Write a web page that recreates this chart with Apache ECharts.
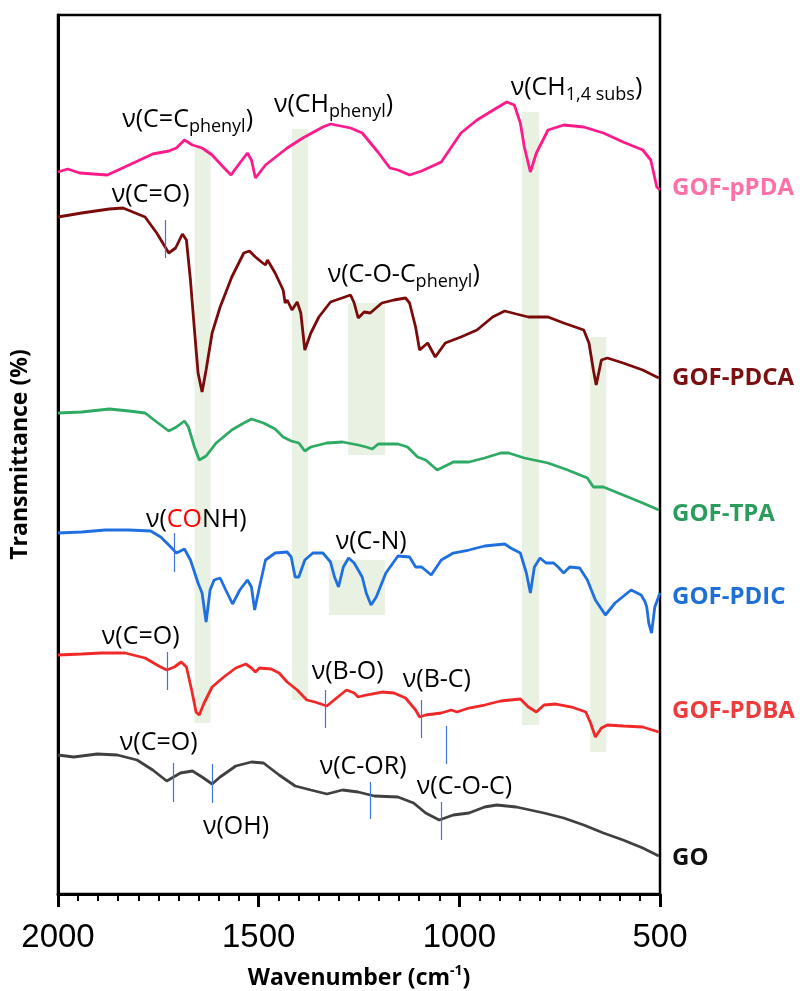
<!DOCTYPE html>
<html><head><meta charset="utf-8">
<script src="https://cdn.jsdelivr.net/npm/echarts@6/dist/echarts.min.js"></script>
<style>html,body{margin:0;padding:0;background:#fff}#c{width:804px;height:991px}</style>
</head><body><div id="c"></div>
<script>
// Wavenumber (cm-1) vs transmittance (arbitrary offset units)
const xTicks = [2000, 1500, 1000, 500];
const pPDA = [[2000,722],[1976,725],[1946,721],[1877,719],[1823,729],[1764,740],[1724,743],[1705,746],[1685,754],[1665,749],[1641,746],[1616,739],[1586,726],[1569,719],[1547,731],[1528,741],[1518,734],[1508,716],[1483,729],[1429,746],[1390,756],[1340,767],[1321,770],[1271,766],[1242,761],[1203,742],[1173,726],[1153,724],[1124,719],[1094,723],[1045,732],[996,761],[956,774],[907,786],[882,792],[863,789],[848,771],[838,747],[823,722],[808,741],[779,764],[740,769],[690,767],[641,761],[592,752],[543,744],[523,734],[508,707],[500,704]];
const PDCA = [[2000,677],[1941,681],[1872,685],[1838,686],[1783,677],[1754,661],[1724,641],[1707,646],[1690,660],[1680,654],[1670,614],[1660,564],[1651,521],[1641,502],[1631,524],[1616,561],[1596,587],[1567,617],[1537,641],[1523,643],[1508,637],[1493,632],[1483,629],[1478,634],[1459,621],[1439,604],[1434,591],[1429,594],[1417,584],[1404,592],[1395,581],[1385,544],[1370,561],[1350,577],[1321,592],[1271,599],[1262,591],[1252,576],[1237,582],[1222,581],[1193,591],[1163,594],[1134,596],[1124,591],[1109,567],[1099,544],[1079,551],[1060,537],[1035,551],[996,557],[956,564],[917,577],[887,583],[858,580],[828,577],[779,577],[740,571],[690,564],[677,551],[666,524],[659,509],[646,534],[631,536],[592,531],[543,524],[503,516]];
const TPA = [[2000,481],[1941,482],[1872,485],[1823,483],[1783,481],[1754,472],[1724,463],[1705,467],[1685,473],[1675,467],[1660,447],[1648,434],[1631,438],[1606,451],[1567,464],[1537,471],[1518,475],[1488,471],[1459,465],[1439,457],[1419,453],[1400,451],[1385,443],[1370,447],[1330,451],[1291,452],[1252,449],[1232,447],[1217,445],[1202,450],[1153,450],[1129,447],[1104,437],[1084,434],[1055,424],[1015,432],[976,432],[937,436],[897,441],[877,441],[838,436],[779,431],[730,424],[681,416],[666,407],[641,407],[592,399],[543,391],[503,384]];
const PDIC = [[2000,361],[1941,362],[1882,364],[1823,364],[1769,363],[1744,357],[1719,347],[1705,341],[1685,345],[1670,334],[1651,311],[1641,301],[1631,272],[1621,304],[1611,314],[1596,316],[1582,304],[1565,290],[1547,304],[1528,314],[1518,307],[1510,284],[1498,307],[1483,334],[1459,341],[1429,342],[1419,337],[1409,317],[1400,317],[1385,334],[1365,341],[1340,341],[1321,332],[1311,317],[1301,307],[1289,327],[1276,336],[1262,331],[1242,317],[1232,301],[1220,289],[1207,297],[1183,321],[1153,338],[1124,337],[1109,327],[1094,327],[1070,319],[1045,334],[1015,341],[976,344],[937,348],[887,350],[872,346],[848,341],[833,321],[823,301],[813,327],[799,336],[784,331],[765,331],[754,327],[740,321],[725,327],[700,326],[681,314],[661,294],[636,279],[612,291],[572,304],[547,299],[537,292],[533,287],[528,271],[521,261],[513,287],[500,301]];
const PDBA = [[2000,239],[1941,240],[1892,241],[1833,241],[1783,236],[1749,228],[1729,224],[1710,227],[1693,232],[1680,227],[1667,204],[1656,182],[1648,179],[1636,191],[1616,207],[1587,217],[1557,226],[1532,230],[1518,226],[1508,222],[1498,226],[1469,225],[1449,221],[1429,212],[1404,204],[1380,194],[1360,192],[1330,188],[1306,196],[1281,204],[1262,201],[1252,197],[1232,199],[1193,202],[1163,201],[1134,196],[1109,184],[1099,177],[1084,179],[1045,181],[1020,184],[1006,182],[976,186],[937,189],[897,193],[848,195],[828,187],[808,182],[789,189],[759,190],[720,187],[685,182],[673,171],[661,157],[646,166],[631,169],[592,168],[543,167],[503,162]];
const GO = [[2000,139],[1961,137],[1902,140],[1852,139],[1803,134],[1764,124],[1729,113],[1695,121],[1665,123],[1641,117],[1616,110],[1596,117],[1557,128],[1518,132],[1488,131],[1449,119],[1409,108],[1370,104],[1330,100],[1291,104],[1252,102],[1212,98],[1153,97],[1114,91],[1084,81],[1050,74],[1015,79],[976,81],[937,87],[907,89],[858,87],[789,81],[740,76],[690,69],[641,61],[592,54],[543,46],[503,38]];

const seriesNames = ['GOF-pPDA','GOF-PDCA','GOF-TPA','GOF-PDIC','GOF-PDBA','GO'];
const seriesData = [pPDA, PDCA, TPA, PDIC, PDBA, GO];
const lineColors = ['#ff1a8c','#7b0a0a','#2daa63','#1f6fe0','#f02828','#404040'];
const nameColors = ['#ff6fa8','#7b1010','#2a9d5c','#1e6fd6','#ef3b3b','#111111'];
const nameLevels = [706, 516, 380, 297, 183, 36];

// shaded bands: [wnStart, wnEnd, top, bottom]
const bands = [[1660,1620,746,171],[1417,1377,765,194],[1277,1185,591,439],[1325,1185,334,279],[844,801,782,169],[674,634,557,142]];
// blue marker lines: [wn, top, bottom]
const markers = [[1733,674,636],[1711,361,322],[1728,242,204],[1335,204,166],[1096,194,156],[1033,168,130],[1713,131,92],[1616,130,91],[1223,112,75],[1045,92,54]];
// annotations: [text, wn (left edge), level (middle)]
const notes = [
  ['{n|ν(C=C}{s|phenyl}{n|)}', 1840, 774],
  ['{n|ν(CH}{s|phenyl}{n|)}', 1462, 789],
  ['{n|ν(CH}{s|1,4 subs}{n|)}', 872, 806],
  ['{n|ν(C=O)}', 1866, 699],
  ['{n|ν(C-O-C}{s|phenyl}{n|)}', 1328, 619],
  ['{n|ν(}{r|CO}{n|NH)}', 1781, 374],
  ['{n|ν(C-N)}', 1308, 352],
  ['{n|ν(C=O)}', 1891, 257],
  ['{n|ν(B-O)}', 1368, 222],
  ['{n|ν(B-C)}', 1141, 214],
  ['{n|ν(C=O)}', 1846, 151],
  ['{n|ν(OH)}', 1639, 67],
  ['{n|ν(C-OR)}', 1348, 127],
  ['{n|ν(C-O-C)}', 1106, 107]
];

const FONT = '"Open Sans", "Noto Sans", sans-serif';
const chart = echarts.init(document.getElementById('c'), null, {renderer: 'canvas'});
const series = [];
series.push({
  type: 'line', data: [], z: 1, silent: true,
  markArea: {silent: true, itemStyle: {color: 'rgba(205,225,190,0.45)'},
    data: bands.map(b => [{coord: [b[0], b[2]]}, {coord: [b[1], b[3]]}])}
});
seriesData.forEach((d, i) => series.push({
  type: 'line', name: seriesNames[i], data: d, z: 2, showSymbol: false, symbol: 'none',
  lineStyle: {color: lineColors[i], width: 2.8}, animation: false
}));
series.push({
  type: 'line', data: [], z: 3, silent: true,
  markLine: {silent: true, symbol: 'none', label: {show: false},
    lineStyle: {color: '#3f74d8', width: 1.2, type: 'solid', opacity: 1},
    data: markers.map(m => [{coord: [m[0], m[1]]}, {coord: [m[0], m[2]]}])}
});
series.push({
  type: 'scatter', z: 4, symbolSize: 0, silent: true, itemStyle: {opacity: 1},
  data: notes.map(n => ({name: n[0], value: [n[1], n[2]]})),
  label: {show: true, position: 'right', distance: 0, color: '#000', formatter: p => p.name,
    rich: {
      n: {fontSize: 25, fontFamily: FONT, color: '#000'},
      s: {fontSize: 18, fontFamily: FONT, color: '#000', padding: [14, 0, 0, 0]},
      r: {fontSize: 25, fontFamily: FONT, color: '#ff0000'}
    }}
});
series.push({
  type: 'scatter', z: 4, symbolSize: 0, silent: true, clip: false, itemStyle: {opacity: 1},
  data: seriesNames.map((nm, i) => ({name: nm, value: [500, nameLevels[i]],
    label: {color: nameColors[i]}})),
  label: {show: true, position: 'right', distance: 12, formatter: p => p.name,
    fontSize: 24, fontWeight: 'bold', fontFamily: FONT}
});

chart.setOption({
  animation: false,
  backgroundColor: '#fff',
  grid: {left: 58, right: 144, top: 15, bottom: 97, outerBoundsMode: 'none', containLabel: false,
    show: true, borderColor: '#000', borderWidth: 2.5, backgroundColor: 'transparent'},
  xAxis: {
    type: 'value', min: 500, max: 2000, interval: 500, inverse: true,
    name: '{b|Wavenumber (cm}{sup|-1}{b|)}', nameLocation: 'middle', nameGap: 70,
    nameTextStyle: {rich: {
      b: {fontSize: 23, fontWeight: 'bold', fontFamily: FONT, color: '#000'},
      sup: {fontSize: 14, fontWeight: 'bold', fontFamily: FONT, color: '#000', padding: [0, 0, 14, 0]}
    }},
    axisLine: {show: true, onZero: false, lineStyle: {color: '#000', width: 3}},
    axisTick: {show: true, length: 13, lineStyle: {color: '#000', width: 3}},
    minorTick: {show: true, splitNumber: 10, length: 7, lineStyle: {color: '#000', width: 2}},
    axisLabel: {fontSize: 33, fontFamily: '"Liberation Sans", Arial, sans-serif', color: '#000', margin: 27,
      formatter: v => xTicks.includes(v) ? String(v) : ''},
    splitLine: {show: false}, minorSplitLine: {show: false}
  },
  yAxis: {
    type: 'value', min: 0, max: 879,
    name: 'Transmittance (%)', nameLocation: 'middle', nameGap: 26,
    nameTextStyle: {fontSize: 23, fontWeight: 'bold', fontFamily: FONT, color: '#000'},
    axisLine: {show: true, lineStyle: {color: '#000', width: 3}},
    axisTick: {show: false}, axisLabel: {show: false}, splitLine: {show: false}
  },
  series: series
});
</script>
</body></html>
